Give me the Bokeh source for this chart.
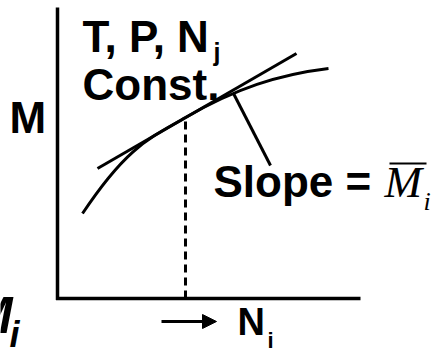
from bokeh.plotting import figure
from bokeh.models import Range1d, Label, Arrow, NormalHead
from bokeh.embed import file_html
from bokeh.resources import INLINE

# Schematic: molar property M versus moles N_i at fixed T, P, N_j.
# Arbitrary units along both axes; the origin sits at the corner of the axes.

# axis extents
axis_x_max = 30.3
axis_y_max = 29.1

# M(N_i) drawn as two cubic Bezier pieces that meet at the tangent point
curve_x0 = [2.5, 12.8]
curve_y0 = [8.5, 18.1]
curve_cx0 = [7.0, 17.8]
curve_cy0 = [15.25, 20.99]
curve_cx1 = [9.3, 22.1]
curve_cy1 = [16.08, 22.4]
curve_x1 = [12.8, 27.1]
curve_y1 = [18.1, 23.0]

# tangent line at the chosen composition (slope = partial molar M_i)
tangent_x = [4.0, 23.9]
tangent_y = [13.0, 24.5]

# chosen N_i and the value of M there
point_x = 12.8
point_y = 17.8

# leader from the tangent point down to the "Slope =" label
leader_x = [17.6, 21.3]
leader_y = [20.5, 13.3]

# direction arrow under the N_i axis
arrow_x = [10.4, 15.9]
arrow_y = -2.3

# bar over the M of the partial molar symbol
bar_x = [33.2, 36.9]
bar_y = 13.5

SANS = "Liberation Sans"
SERIF = "Liberation Serif"

p = figure(width=432, height=350, output_backend="svg", toolbar_location=None,
           x_range=Range1d(-5.7, 37.5), y_range=Range1d(-5.2, 29.8),
           x_axis_location=None, y_axis_location=None, min_border=0)
p.background_fill_color = "white"
p.border_fill_color = "white"
p.outline_line_color = None
p.grid.visible = False

# axes
p.line([0, 0], [-0.15, axis_y_max], line_color="black", line_width=3.5)
p.line([-0.15, axis_x_max], [0, 0], line_color="black", line_width=3.5)

p.bezier(x0=curve_x0, y0=curve_y0, x1=curve_x1, y1=curve_y1,
         cx0=curve_cx0, cy0=curve_cy0, cx1=curve_cx1, cy1=curve_cy1,
         line_color="black", line_width=3)
p.line(tangent_x, tangent_y, line_color="black", line_width=3)
p.line([point_x, point_x], [0, point_y], line_color="black", line_width=3,
       line_dash="8 5")
p.line(leader_x, leader_y, line_color="black", line_width=3)
p.line(bar_x, [bar_y, bar_y], line_color="black", line_width=2)

p.add_layout(Arrow(end=NormalHead(size=14, fill_color="black", line_color="black"),
                   x_start=arrow_x[0], y_start=arrow_y,
                   x_end=arrow_x[1], y_end=arrow_y,
                   line_color="black", line_width=3))


def label(x, y, text, size, font=SANS, style="bold", align="left"):
    p.add_layout(Label(x=x, y=y, text=text, text_font=font,
                       text_font_size=f"{size}px", text_font_style=style,
                       text_color="black", text_align=align,
                       text_baseline="alphabetic"))


label(-4.8, 18.1, "M", 44)
label(2.5, 26.2, "T, P, N", 44)
label(15.6, 24.7, "j", 25)
label(2.5, 21.4, "Const.", 44)
label(15.6, 11.7, "Slope =", 44)
label(32.7, 11.7, "M", 45, font=SERIF, style="italic")
label(36.6, 9.7, "i", 26, font=SERIF, style="italic")
label(18.0, -2.3, "N", 38)
label(21.0, -4.2, "i", 22)
label(-4.5, -1.6, "M", 52, style="bold italic", align="right")
label(-4.8, -3.6, "i", 36, style="bold italic")

open("out.html", "w").write(file_html(p, INLINE))
